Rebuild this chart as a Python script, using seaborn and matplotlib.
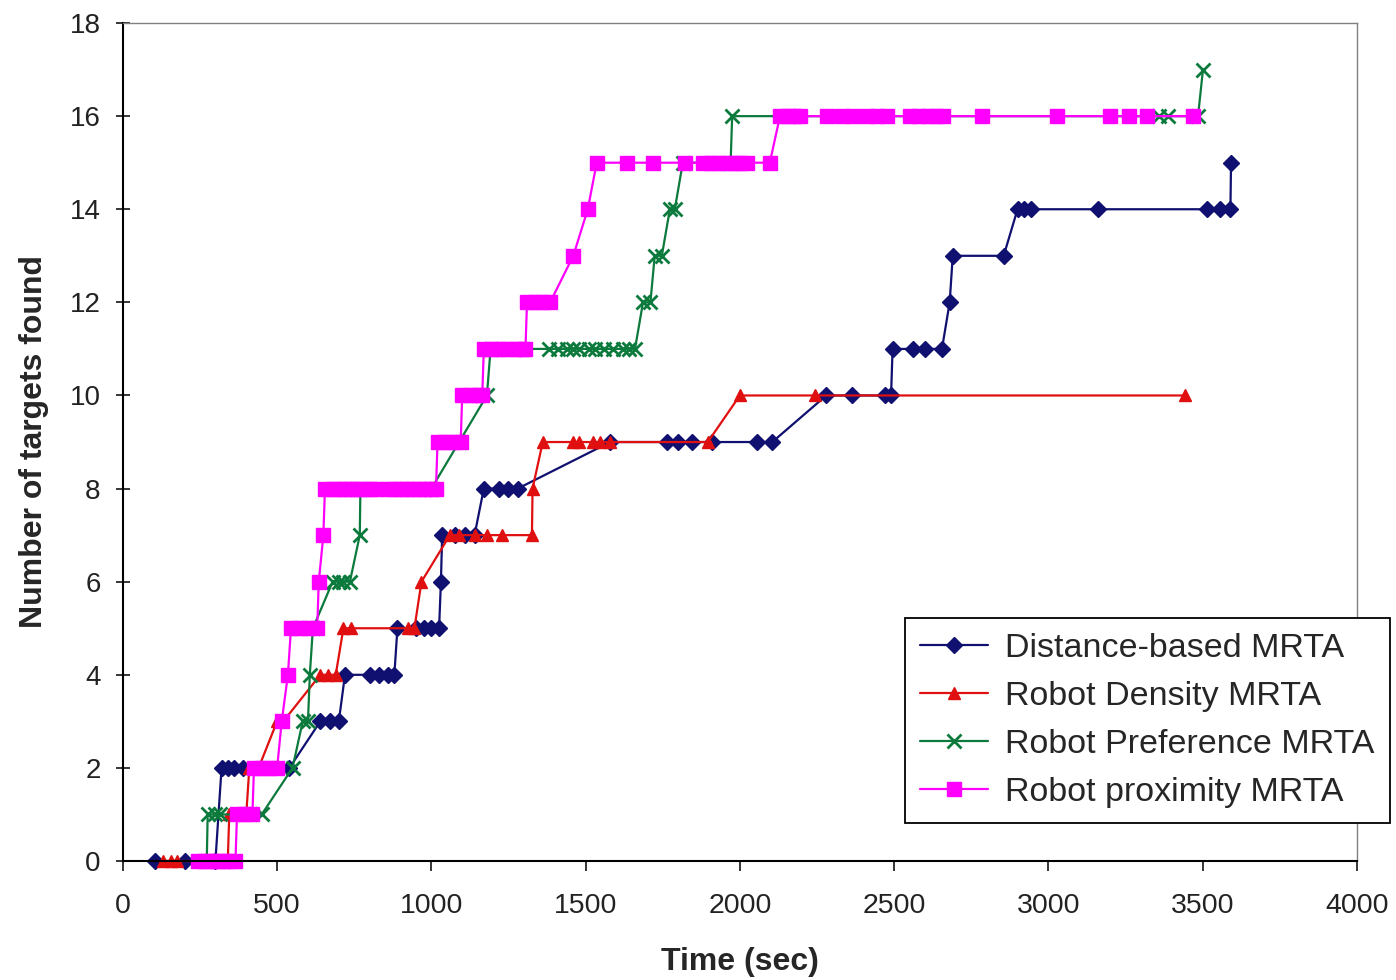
import numpy as np
import pandas as pd
import seaborn as sns
import matplotlib.pyplot as plt

# Distance-based MRTA
dist_t = [105, 200, 300, 320, 340, 360, 390, 540, 640, 670, 700, 720, 800, 830, 860, 880,
          890, 950, 975, 1000, 1025, 1031, 1035, 1075, 1110, 1140, 1170, 1220, 1250, 1280,
          1580, 1765, 1800, 1845, 1910, 2055, 2105, 2280, 2365, 2470, 2490, 2495, 2560, 2600,
          2655, 2680, 2690, 2855, 2900, 2920, 2945, 3160, 3515, 3555, 3590, 3592]
dist_v = [0, 0, 0, 2, 2, 2, 2, 2, 3, 3, 3, 4, 4, 4, 4, 4,
          5, 5, 5, 5, 5, 6, 7, 7, 7, 7, 8, 8, 8, 8,
          9, 9, 9, 9, 9, 9, 9, 10, 10, 10, 10, 11, 11, 11,
          11, 12, 13, 13, 14, 14, 14, 14, 14, 14, 14, 15]

# Robot Density MRTA
dens_t = [130, 155, 175, 340, 345, 400, 410, 440, 500, 520, 640, 665, 690, 715, 740, 925,
          945, 968, 1060, 1090, 1140, 1180, 1230, 1326, 1328, 1361, 1460, 1480, 1525, 1546,
          1578, 1896, 2000, 2245, 3443]
dens_v = [0, 0, 0, 0, 1, 1, 2, 2, 3, 3, 4, 4, 4, 5, 5, 5,
          5, 6, 7, 7, 7, 7, 7, 7, 8, 9, 9, 9, 9, 9,
          9, 9, 10, 10, 10]

# Robot Preference MRTA
pref_t = [272, 275, 300, 315, 450, 550, 583, 600, 606, 616, 680, 700, 713, 736, 768, 770,
          1000, 1090, 1180, 1192, 1380, 1410, 1440, 1460, 1480, 1510, 1530, 1560, 1590, 1620,
          1640, 1660, 1686, 1710, 1724, 1747, 1773, 1789, 1815, 1970, 1975, 3360, 3387, 3485,
          3501]
pref_v = [0, 1, 1, 1, 1, 2, 3, 3, 4, 5, 6, 6, 6, 6, 7, 8,
          8, 9, 10, 11, 11, 11, 11, 11, 11, 11, 11, 11, 11, 11,
          11, 11, 12, 12, 13, 13, 14, 14, 15, 15, 16, 16, 16, 16,
          17]

# Robot proximity MRTA
prox_t = [245, 265, 285, 305, 325, 345, 365, 370, 395, 420, 425, 450, 475, 500, 515, 535,
          545, 570, 600, 630, 635, 650, 655, 680, 700, 720, 740, 760, 780, 800, 820, 860,
          880, 900, 920, 940, 960, 980, 1000, 1015, 1020, 1045, 1070, 1095, 1100, 1125, 1150,
          1165, 1170, 1195, 1220, 1245, 1270, 1295, 1305, 1310, 1335, 1360, 1385, 1460, 1507,
          1536, 1634, 1718, 1822, 1880, 1905, 1930, 1955, 1980, 2000, 2022, 2097, 2130, 2155,
          2175, 2195, 2282, 2330, 2366, 2412, 2445, 2476, 2551, 2580, 2610, 2635, 2658, 2784,
          3027, 3200, 3260, 3319, 3468]
prox_v = [0, 0, 0, 0, 0, 0, 0, 1, 1, 1, 2, 2, 2, 2, 3, 4,
          5, 5, 5, 5, 6, 7, 8, 8, 8, 8, 8, 8, 8, 8, 8, 8,
          8, 8, 8, 8, 8, 8, 8, 8, 9, 9, 9, 9, 10, 10, 10,
          10, 11, 11, 11, 11, 11, 11, 11, 12, 12, 12, 12, 13, 14,
          15, 15, 15, 15, 15, 15, 15, 15, 15, 15, 15, 15, 16, 16,
          16, 16, 16, 16, 16, 16, 16, 16, 16, 16, 16, 16, 16, 16,
          16, 16, 16, 16, 16]

sns.set_style("white")
plt.rcParams['font.family'] = ['Liberation Sans', 'DejaVu Sans']

fig = plt.figure(figsize=(13.96, 9.8), dpi=100)
ax = fig.add_axes([0.088, 0.1214, 0.884, 0.8551])

series = [
    ("Distance-based MRTA", dist_t, dist_v, "#101070", "D", 8),
    ("Robot Density MRTA", dens_t, dens_v, "#e01010", "^", 8.5),
    ("Robot Preference MRTA", pref_t, pref_v, "#0c7a3c", "x", 10.5),
    ("Robot proximity MRTA", prox_t, prox_v, "#ff00ff", "s", 10),
]

for name, t, v, col, mk, ms in series:
    sns.lineplot(x=t, y=v, sort=False, estimator=None, ax=ax, label=name,
                 color=col, linewidth=1.6, marker=mk, markersize=ms,
                 markerfacecolor=col, markeredgecolor=col,
                 markeredgewidth=2.0 if mk == "x" else 1.0, clip_on=False)

ax.set_xlim(0, 4000)
ax.set_ylim(0, 18)
ax.set_xticks(np.arange(0, 4001, 500))
ax.set_yticks(np.arange(0, 19, 2))
ax.tick_params(axis="x", direction="out", length=7, width=1.3, pad=16,
               labelsize=20.5, labelcolor="#222222", bottom=True)
ax.tick_params(axis="y", direction="inout", length=10, width=1.3, pad=11,
               labelsize=20, labelcolor="#222222", left=True)

for side in ["left", "bottom"]:
    ax.spines[side].set_color("black")
    ax.spines[side].set_linewidth(1.5)
for side in ["top", "right"]:
    ax.spines[side].set_color("#808080")
    ax.spines[side].set_linewidth(1.0)

ax.set_xlabel("Time (sec)", fontsize=23, fontweight="bold", labelpad=20)
ax.set_ylabel("Number of targets found", fontsize=23, fontweight="bold", labelpad=15)

leg = ax.legend(loc="lower left", bbox_to_anchor=(0.648, 0.160),
                bbox_transform=fig.transFigure, fontsize=24.5, frameon=True,
                fancybox=False, framealpha=1, edgecolor="black", borderpad=0.45,
                handlelength=2.0, handletextpad=0.5, labelspacing=0.5,
                borderaxespad=0)
leg.get_frame().set_linewidth(1.3)
for line in leg.get_lines():
    line.set_linewidth(1.6)

fig.savefig("out.png", dpi=100)
